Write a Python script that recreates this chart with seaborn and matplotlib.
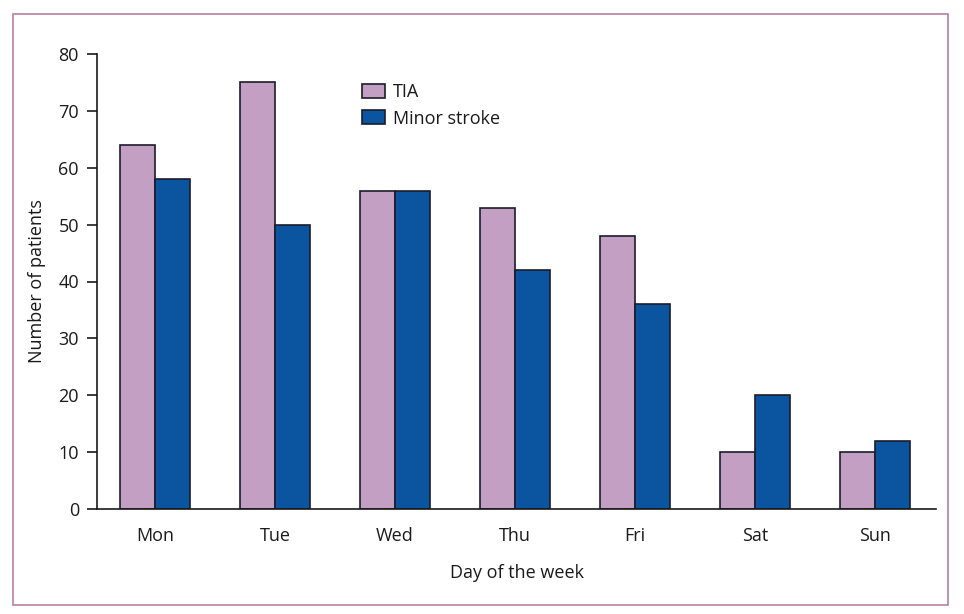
import matplotlib
matplotlib.use("Agg")
import matplotlib.pyplot as plt
import seaborn as sns
import pandas as pd
from matplotlib.patches import Rectangle

days = ["Mon", "Tue", "Wed", "Thu", "Fri", "Sat", "Sun"]
tia = [64, 75, 56, 53, 48, 10, 10]
minor_stroke = [58, 50, 56, 42, 36, 20, 12]
series_names = ["TIA", "Minor stroke"]
y_ticks = [0, 10, 20, 30, 40, 50, 60, 70, 80]

df = pd.DataFrame({
    "day": days * 2,
    "count": tia + minor_stroke,
    "type": [series_names[0]] * len(days) + [series_names[1]] * len(days),
})

sns.set_theme(style="white")
plt.rcParams["font.family"] = ["Open Sans", "DejaVu Sans"]

W, H = 964, 614
fig = plt.figure(figsize=(W / 100, H / 100), dpi=100)
ax = fig.add_axes([97 / W, (H - 509) / H, (936 - 97) / W, (509 - 54) / H])

palette = {"TIA": "#C49FC4", "Minor stroke": "#0B55A0"}
sns.barplot(data=df, x="day", y="count", hue="type", order=days,
            hue_order=series_names, palette=palette, width=0.583, gap=0,
            edgecolor="#1c1c2a", linewidth=1.2, saturation=1, ax=ax,
            legend=True)

ax.set_xlim(-0.483, 6.508)
ax.set_ylim(0, 80)
ax.set_yticks(y_ticks)
ax.tick_params(axis="y", direction="out", length=7.5, width=1.2, color="#1a1a1a",
               pad=5.5, labelsize=13, labelcolor="#1a1a1a", left=True)
ax.tick_params(axis="x", length=0, pad=13, labelsize=13, labelcolor="#1a1a1a")

for s in ["top", "right"]:
    ax.spines[s].set_visible(False)
for s in ["left", "bottom"]:
    ax.spines[s].set_color("#1a1a1a")
    ax.spines[s].set_linewidth(1.2)

ax.set_xlabel("Day of the week", fontsize=13, color="#1a1a1a", labelpad=14)
ax.set_ylabel("Number of patients", fontsize=13, color="#1a1a1a", labelpad=9)

handles, labels = ax.get_legend_handles_labels()
ax.legend(handles, labels, loc="upper left",
          bbox_to_anchor=((362 - 97) / 839, (509 - 83) / 455),
          frameon=False, fontsize=13, borderpad=0, borderaxespad=0,
          handlelength=1.25, handleheight=0.8, handletextpad=0.45,
          labelspacing=0.48)
for t in ax.get_legend().get_texts():
    t.set_color("#1a1a1a")

fig.patches.append(Rectangle((13 / W, (H - 605) / H), (948 - 13) / W, (605 - 14) / H,
                             transform=fig.transFigure, fill=False,
                             edgecolor="#B8809E", linewidth=1.2))

fig.savefig("out.png", dpi=100, facecolor="white")
